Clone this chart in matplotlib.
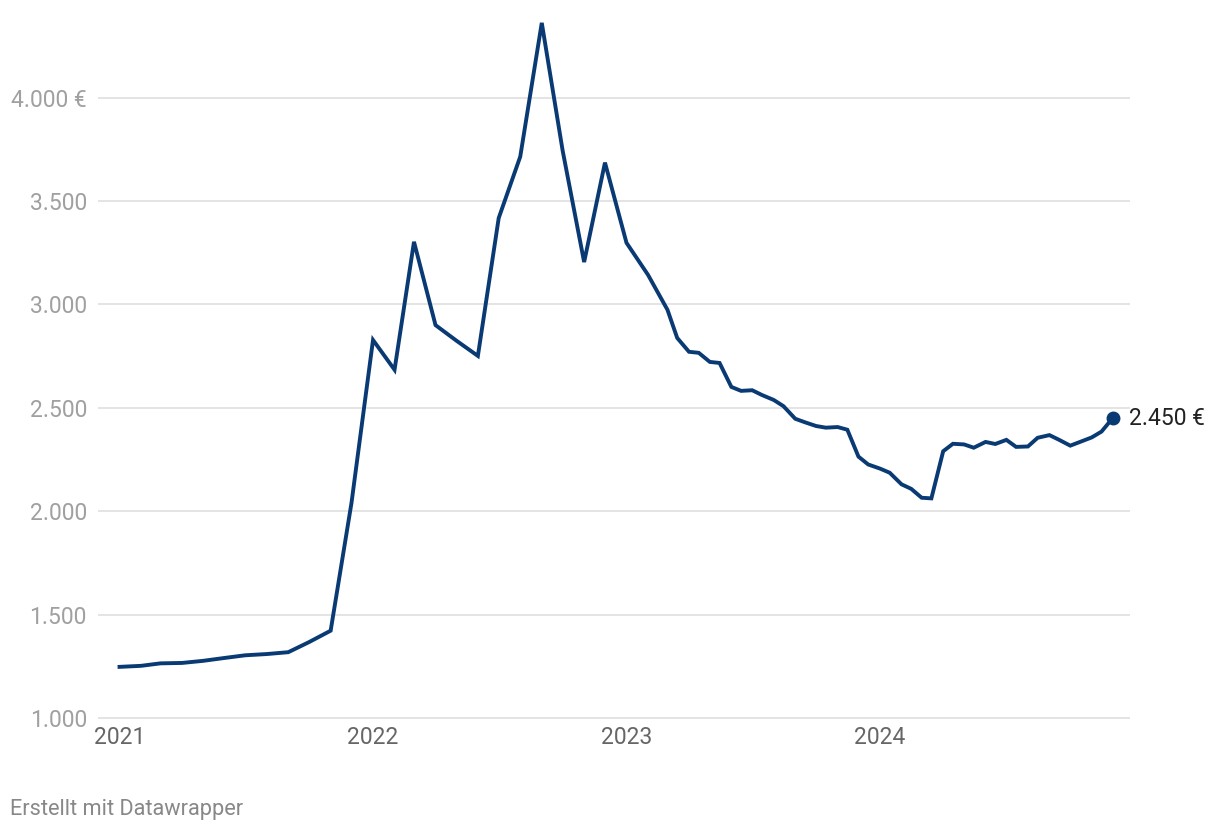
import numpy as np
import pandas as pd
import matplotlib
matplotlib.use("Agg")
import matplotlib.pyplot as plt
import matplotlib.dates as mdates

plt.rcParams['font.family'] = ['Roboto', 'DejaVu Sans']

# monatlich bis Feb 2023, danach halbmonatlich
dates_monthly = pd.date_range('2021-01-01', '2023-02-01', freq='MS')
values_monthly = [1247, 1252, 1264, 1266, 1276, 1290, 1303, 1309, 1318, 1367, 1422, 2040,
                  2828, 2684, 3303, 2900, 2825, 2751, 3418, 3715, 4362, 3745, 3205, 3686,
                  3298, 3143]
dates_half = pd.to_datetime([f'{y}-{m:02d}-{d:02d}'
                             for y in (2023, 2024) for m in range(1, 13) for d in (1, 15)])
dates_half = dates_half[(dates_half >= '2023-03-01') & (dates_half <= '2024-12-01')]
values_half = [2974, 2838, 2771, 2766, 2722, 2717, 2601, 2582, 2585, 2562,
               2538, 2508, 2447, 2430, 2412, 2404, 2407, 2394, 2264, 2226,
               2206, 2186, 2130, 2108, 2065, 2062, 2290, 2326, 2323, 2307,
               2335, 2325, 2345, 2311, 2313, 2355, 2368, 2345, 2317, 2335,
               2357, 2385, 2450]

dates = list(dates_monthly) + list(dates_half)
values = values_monthly + values_half

yticks = [1000, 1500, 2000, 2500, 3000, 3500, 4000]
ytick_labels = ['1.000', '1.500', '2.000', '2.500', '3.000', '3.500', '4.000 €']
xticks = ['2021-01-01', '2022-01-01', '2023-01-01', '2024-01-01']
xtick_labels = ['2021', '2022', '2023', '2024']

blue = '#0a3a74'

fig = plt.figure(figsize=(12.2, 8.34), dpi=100)
ax = fig.add_axes([98 / 1220, 1 - 720 / 834, (1130 - 98) / 1220, (720 - 15) / 834])

ax.plot(dates, values, color=blue, lw=2.8, solid_joinstyle='miter', zorder=3)
ax.plot(dates[-1], values[-1], 'o', color=blue, ms=9, zorder=4)
ax.annotate('2.450 €', (mdates.date2num(dates[-1]), values[-1]), xytext=(12, 0),
            textcoords='offset points', va='center', ha='left', fontsize=16.5, color='#222222')

ax.set_xlim(pd.Timestamp('2020-12-01'), pd.Timestamp('2024-12-26'))
ax.set_ylim(990, 4400)

ax.set_yticks(yticks)
ax.set_yticklabels(ytick_labels)
ax.set_xticks(pd.to_datetime(xticks))
ax.set_xticklabels(xtick_labels)

ax.grid(axis='y', color='#e2e2e2', lw=1.3, zorder=0)
ax.grid(axis='x', visible=False)
for s in ax.spines.values():
    s.set_visible(False)

ax.tick_params(axis='y', length=0, pad=8, labelsize=16.5, labelcolor='#a0a0a0')
ax.tick_params(axis='x', length=0, pad=4, labelsize=16.5, labelcolor='#666666')

fig.text(10 / 1220, 1 - 810 / 834, 'Erstellt mit Datawrapper', fontsize=15.7,
         color='#888888', ha='left', va='center')

fig.savefig('out.png', dpi=100)
